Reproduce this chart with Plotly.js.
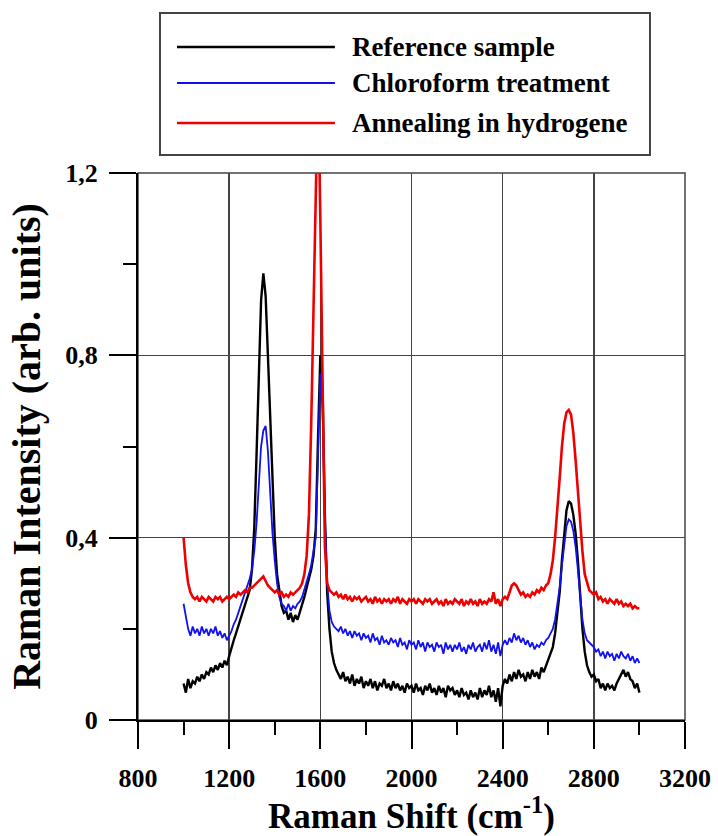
<!DOCTYPE html>
<html>
<head>
<meta charset="utf-8">
<script src="https://cdn.plot.ly/plotly-3.0.1.min.js"></script>
<style>
  html, body { margin: 0; padding: 0; background: #fff; }
  #chart { width: 718px; height: 836px; }
</style>
</head>
<body>
<div id="chart"></div>
<script>
// Raman shift (cm-1)
const ramanShift = [
  1000,1010,1020,1030,1040,1050,1060,1070,1080,1090,
  1100,1110,1120,1130,1140,1150,1160,1170,1180,1190,
  1200,1210,1220,1230,1240,1250,1260,1270,1280,1290,
  1300,1310,1320,1330,1340,1350,1360,1370,1380,1390,
  1400,1410,1420,1430,1440,1450,1460,1470,1480,1490,
  1500,1510,1520,1530,1540,1550,1560,1570,1580,1590,
  1600,1610,1620,1630,1640,1650,1660,1670,1680,1690,
  1700,1710,1720,1730,1740,1750,1760,1770,1780,1790,
  1800,1810,1820,1830,1840,1850,1860,1870,1880,1890,
  1900,1910,1920,1930,1940,1950,1960,1970,1980,1990,
  2000,2010,2020,2030,2040,2050,2060,2070,2080,2090,
  2100,2110,2120,2130,2140,2150,2160,2170,2180,2190,
  2200,2210,2220,2230,2240,2250,2260,2270,2280,2290,
  2300,2310,2320,2330,2340,2350,2360,2370,2380,2390,
  2400,2410,2420,2430,2440,2450,2460,2470,2480,2490,
  2500,2510,2520,2530,2540,2550,2560,2570,2580,2590,
  2600,2610,2620,2630,2640,2650,2660,2670,2680,2690,
  2700,2710,2720,2730,2740,2750,2760,2770,2780,2790,
  2800,2810,2820,2830,2840,2850,2860,2870,2880,2890,
  2900,2910,2920,2930,2940,2950,2960,2970,2980,2990,
  3000
];

// Reference sample
const referenceSample = [
  0.08,0.06,0.09,0.07,0.085,0.08,0.095,0.085,0.10,0.09,
  0.105,0.10,0.115,0.105,0.12,0.11,0.125,0.115,0.13,0.12,
  0.14,0.16,0.175,0.19,0.205,0.22,0.235,0.25,0.265,0.285,
  0.33,0.42,0.58,0.77,0.92,0.98,0.93,0.80,0.66,0.50,
  0.40,0.32,0.28,0.25,0.235,0.24,0.22,0.235,0.215,0.23,
  0.22,0.235,0.25,0.27,0.29,0.31,0.33,0.36,0.42,0.62,
  0.80,0.72,0.45,0.28,0.20,0.15,0.125,0.11,0.10,0.09,
  0.105,0.085,0.095,0.08,0.10,0.075,0.09,0.08,0.095,0.07,
  0.085,0.075,0.09,0.07,0.085,0.065,0.08,0.075,0.09,0.07,
  0.08,0.065,0.085,0.07,0.08,0.065,0.075,0.06,0.08,0.07,
  0.075,0.06,0.08,0.065,0.07,0.055,0.075,0.065,0.08,0.06,
  0.07,0.055,0.075,0.06,0.07,0.05,0.075,0.065,0.07,0.055,
  0.065,0.05,0.07,0.055,0.06,0.045,0.065,0.05,0.06,0.045,
  0.07,0.05,0.065,0.055,0.075,0.05,0.065,0.04,0.07,0.03,
  0.075,0.09,0.08,0.10,0.085,0.105,0.09,0.11,0.095,0.10,
  0.085,0.105,0.09,0.11,0.095,0.105,0.09,0.115,0.105,0.12,
  0.13,0.145,0.16,0.19,0.23,0.28,0.35,0.41,0.46,0.48,
  0.475,0.45,0.41,0.35,0.27,0.20,0.15,0.12,0.105,0.095,
  0.10,0.085,0.09,0.07,0.08,0.065,0.08,0.07,0.075,0.065,
  0.08,0.09,0.10,0.11,0.095,0.105,0.09,0.085,0.07,0.08,
  0.06
];

// Chloroform treatment
const chloroformTreatment = [
  0.255,0.23,0.20,0.185,0.205,0.19,0.20,0.185,0.205,0.19,
  0.20,0.185,0.20,0.19,0.205,0.185,0.195,0.18,0.19,0.175,
  0.185,0.195,0.21,0.22,0.235,0.25,0.265,0.275,0.29,0.31,
  0.33,0.37,0.43,0.52,0.60,0.635,0.645,0.59,0.50,0.41,
  0.35,0.30,0.27,0.255,0.25,0.24,0.255,0.24,0.25,0.245,
  0.255,0.26,0.27,0.285,0.30,0.32,0.34,0.37,0.40,0.58,
  0.76,0.68,0.44,0.30,0.24,0.215,0.205,0.20,0.195,0.205,
  0.19,0.20,0.185,0.195,0.18,0.195,0.185,0.19,0.175,0.19,
  0.18,0.185,0.17,0.19,0.175,0.18,0.165,0.185,0.17,0.175,
  0.165,0.18,0.17,0.175,0.16,0.18,0.165,0.17,0.155,0.175,
  0.165,0.17,0.155,0.175,0.16,0.17,0.15,0.17,0.16,0.165,
  0.15,0.17,0.16,0.165,0.145,0.17,0.155,0.165,0.15,0.165,
  0.155,0.17,0.15,0.16,0.145,0.165,0.155,0.17,0.15,0.16,
  0.165,0.15,0.17,0.155,0.175,0.15,0.165,0.145,0.17,0.14,
  0.165,0.175,0.165,0.18,0.17,0.19,0.175,0.185,0.17,0.18,
  0.165,0.175,0.16,0.17,0.155,0.165,0.16,0.17,0.165,0.175,
  0.18,0.19,0.20,0.22,0.25,0.29,0.34,0.39,0.425,0.44,
  0.435,0.415,0.38,0.33,0.27,0.22,0.19,0.175,0.17,0.165,
  0.16,0.15,0.155,0.14,0.15,0.135,0.15,0.14,0.145,0.13,
  0.145,0.135,0.15,0.14,0.135,0.145,0.13,0.14,0.125,0.135,
  0.125
];

// Annealing in hydrogene
const annealingHydrogene = [
  0.40,0.34,0.30,0.28,0.27,0.265,0.27,0.26,0.27,0.265,
  0.26,0.27,0.265,0.26,0.27,0.265,0.27,0.26,0.265,0.27,
  0.265,0.27,0.275,0.27,0.28,0.275,0.28,0.285,0.28,0.29,
  0.29,0.295,0.30,0.305,0.31,0.315,0.305,0.295,0.29,0.285,
  0.28,0.285,0.275,0.28,0.27,0.275,0.27,0.28,0.275,0.28,
  0.285,0.29,0.30,0.32,0.36,0.45,0.65,0.95,1.25,1.40,
  1.10,0.70,0.38,0.30,0.285,0.28,0.275,0.28,0.27,0.275,
  0.265,0.275,0.265,0.27,0.26,0.27,0.265,0.27,0.26,0.265,
  0.27,0.26,0.265,0.255,0.27,0.26,0.265,0.255,0.265,0.26,
  0.265,0.255,0.265,0.26,0.27,0.255,0.265,0.26,0.255,0.265,
  0.26,0.265,0.255,0.265,0.26,0.255,0.265,0.26,0.265,0.255,
  0.26,0.265,0.255,0.26,0.25,0.265,0.255,0.26,0.255,0.265,
  0.26,0.255,0.265,0.25,0.26,0.255,0.265,0.255,0.26,0.25,
  0.265,0.255,0.26,0.255,0.265,0.26,0.28,0.255,0.265,0.25,
  0.265,0.27,0.265,0.28,0.295,0.30,0.295,0.285,0.275,0.28,
  0.27,0.275,0.27,0.28,0.275,0.285,0.28,0.29,0.285,0.295,
  0.30,0.32,0.35,0.40,0.46,0.53,0.60,0.65,0.675,0.68,
  0.67,0.63,0.57,0.50,0.43,0.37,0.32,0.30,0.285,0.28,
  0.275,0.28,0.265,0.27,0.26,0.265,0.255,0.265,0.26,0.255,
  0.265,0.255,0.26,0.25,0.255,0.25,0.255,0.245,0.25,0.245,
  0.245
];

const seriesNames = ["Reference sample", "Chloroform treatment", "Annealing in hydrogene"];
const seriesColors = ["#000000", "#1010f0", "#ee0000"];
const seriesWidths = [2.4, 1.8, 2.6];
const seriesValues = [referenceSample, chloroformTreatment, annealingHydrogene];

const xTickVals = [800, 1200, 1600, 2000, 2400, 2800, 3200];
const yTickVals = [0, 0.4, 0.8, 1.2];

const serif = "Liberation Serif, Times New Roman, serif";

const traces = seriesValues.map((vals, i) => ({
  type: "scatter",
  mode: "lines",
  name: seriesNames[i],
  x: ramanShift,
  y: vals,
  line: { color: seriesColors[i], width: seriesWidths[i] },
  showlegend: false,
  hoverinfo: "x+y+name"
}));

// manual legend (long sample lines like the original)
const legRowsY = [1.2303, 1.1645, 1.0914];
const shapes = [
  { type: "rect", xref: "paper", yref: "paper", x0: 0, x1: 1, y0: 0, y1: 1,
    line: { color: "#444", width: 1.5 }, layer: "below" },
  { type: "rect", xref: "paper", yref: "paper", x0: 0.0402, x1: 0.936, y0: 1.033, y1: 1.2925,
    line: { color: "#444", width: 2 }, fillcolor: "rgba(0,0,0,0)" }
];
const annotations = [];
seriesNames.forEach((name, i) => {
  shapes.push({ type: "line", xref: "paper", yref: "paper",
    x0: 0.0713, x1: 0.360, y0: legRowsY[i], y1: legRowsY[i],
    line: { color: seriesColors[i], width: i === 1 ? 1.8 : 2.6 } });
  annotations.push({ xref: "paper", yref: "paper", x: 0.3876, y: legRowsY[i],
    xanchor: "left", yanchor: "middle", showarrow: false, text: name,
    font: { family: serif, size: 27, color: "#000", weight: "bold" } });
});

const layout = {
  width: 718, height: 836,
  margin: { l: 138, r: 33, t: 173, b: 116, pad: 0 },
  paper_bgcolor: "#fff", plot_bgcolor: "#fff",
  separators: ", ",
  showlegend: false,
  font: { family: serif, color: "#000" },
  xaxis: {
    range: [800, 3200], tickvals: xTickVals, ticktext: xTickVals.map(String),
    showgrid: true, gridcolor: "#444", gridwidth: 1.5,
    showline: true, linecolor: "#000", linewidth: 2, zeroline: false,
    ticks: "outside", ticklen: 27, tickwidth: 2, tickcolor: "#000",
    ticklabelstandoff: 7,
    minor: { dtick: 200, tick0: 800, ticks: "outside", ticklen: 13, tickwidth: 2, tickcolor: "#000", showgrid: false },
    tickfont: { family: serif, size: 26, weight: "bold", color: "#000" },
    title: { text: "Raman Shift (cm<sup>-1</sup>)", font: { family: serif, size: 35, weight: "bold", color: "#000" }, standoff: 14 },
    automargin: false
  },
  yaxis: {
    range: [0, 1.2], tickvals: yTickVals,
    showgrid: true, gridcolor: "#444", gridwidth: 1.5,
    showline: true, linecolor: "#000", linewidth: 2, zeroline: false,
    ticks: "outside", ticklen: 27, tickwidth: 2, tickcolor: "#000",
    ticklabelstandoff: 6,
    minor: { dtick: 0.2, tick0: 0, ticks: "outside", ticklen: 13, tickwidth: 2, tickcolor: "#000", showgrid: false },
    tickfont: { family: serif, size: 26, weight: "bold", color: "#000" },
    title: { text: "Raman Intensity (arb. units)", font: { family: serif, size: 40, weight: "bold", color: "#000" }, standoff: 12 },
    automargin: false
  },
  shapes: shapes,
  annotations: annotations
};

Plotly.newPlot("chart", traces, layout, { displayModeBar: false, staticPlot: true });
</script>
</body>
</html>
